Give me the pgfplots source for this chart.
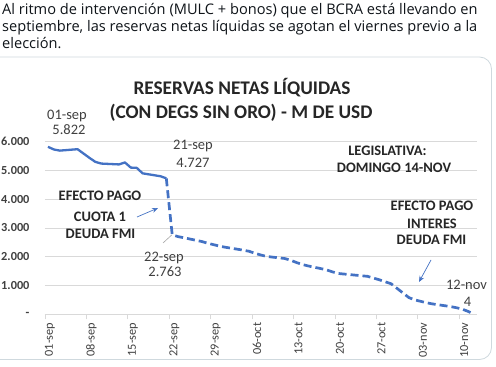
\documentclass[border=0pt]{standalone}
\usepackage{fontspec}
\setmainfont{Carlito}
\newfontfamily\tweetfont{Open Sans}
\usepackage{pgfplots}
\pgfplotsset{compat=1.18}
\usetikzlibrary{arrows.meta}
\definecolor{xlblue}{HTML}{4472C4}
\definecolor{tw}{HTML}{0F1419}
\definecolor{gridc}{HTML}{D9D9D9}
\definecolor{lbl}{HTML}{404040}
\definecolor{ttl}{HTML}{262626}
\definecolor{framec}{HTML}{CFD9DE}
\begin{document}
\begin{tikzpicture}[x=1pt,y=1pt]
\path[use as bounding box, fill=white] (0,0) rectangle (496,367);
\draw[color=framec, line width=0.8pt, rounded corners=12pt] (-20,310) rectangle (491.5,7.5);
% tweet text
\begin{scope}[every node/.style={anchor=base west, inner sep=0pt, text=tw, font=\tweetfont\fontsize{14.6}{17}\selectfont}]
\node at (2,352) {Al ritmo de intervención (MULC + bonos) que el BCRA está llevando en};
\node at (2,335.3) {septiembre, las reservas netas líquidas se agotan el viernes previo a la};
\node at (2,318.7) {elección.};
\end{scope}
\begin{axis}[
  at={(45pt,52.7pt)}, anchor=south west, scale only axis,
  width=432pt, height=172.6pt,
  xmin=0, xmax=73, ymin=0, ymax=6000,
  axis y line*=left, axis x line*=bottom,
  y axis line style={draw=none},
  x axis line style={draw=gridc, line width=0.8pt},
  ymajorgrids, grid style={gridc, line width=0.8pt},
  ytick={0,1000,2000,3000,4000,5000,6000},
  yticklabels={{-\hspace{6pt}},1.000,2.000,3.000,4.000,5.000,6.000},
  ytick style={draw=none},
  yticklabel style={font=\fontsize{12.3}{14}\selectfont\bfseries, text=lbl, xshift=-7pt},
  xtick={0,7,14,21,28,35,42,49,56,63,70},
  xticklabels={01-sep,08-sep,15-sep,22-sep,29-sep,06-oct,13-oct,20-oct,27-oct,03-nov,10-nov},
  xtick style={draw=gridc, line width=0.8pt},
  tick align=outside, major tick length=5pt,
  xticklabel style={font=\fontsize{12.3}{14}\selectfont, text=lbl, xshift=5pt, rotate=90, anchor=east},
  /pgf/number format/assume math mode=true,
  clip=false,
]
\addplot[xlblue, line width=2.3pt, line join=round] coordinates {
(0.5,5822) (1.5,5730) (2.5,5690) (5.5,5740) (6.5,5590) (7.5,5440) (8.5,5300) (9.5,5240)
(12.5,5210) (13.5,5280) (14.5,5100) (15.5,5090) (16.5,4900) (19.5,4800) (20.5,4727)
};
\addplot[xlblue, line width=2.7pt, dash pattern=on 8pt off 4pt] coordinates {
(20.5,4727) (21.5,2763) (22.5,2700) (23.5,2660) (26.5,2530) (27.5,2470) (28.5,2420) (29.5,2370)
(30.5,2330) (33.5,2230) (34.5,2190) (35.5,2120) (36.5,2060) (37.5,2010) (40.5,1940)
(41.5,1880) (42.5,1800) (43.5,1730) (44.5,1680) (47.5,1550) (48.5,1480) (49.5,1420)
(50.5,1400) (51.5,1380) (54.5,1320) (55.5,1260) (56.5,1200) (57.5,1130) (58.5,1060)
(61.5,580) (62.5,500) (63.5,450) (64.5,400) (65.5,360) (68.5,270) (69.5,230) (70.5,180)
(71.5,100) (72.5,4)
};
\end{axis}
% title
\node[anchor=base, font=\fontsize{19.3}{21}\selectfont\bfseries, text=ttl] at (242,272) {RESERVAS NETAS LÍQUIDAS};
\node[anchor=base, font=\fontsize{19.3}{21}\selectfont\bfseries, text=ttl] at (241,248) {(CON DEGS SIN ORO) - M DE USD};
% data labels
\begin{scope}[every node/.style={anchor=base, inner sep=0pt, text=lbl, font=\fontsize{14.5}{16}\selectfont}]
\node at (67,247.7) {01-sep};
\node at (69,232) {5.822};
\node at (193,217) {21-sep};
\node at (193,199) {4.727};
\node at (164,105.3) {22-sep};
\node at (165,90) {2.763};
\node at (466.5,77.7) {12-nov};
\node at (467.5,60.3) {4};
\end{scope}
\draw[gray!70, line width=0.6pt] (171.7,132) -- (163,124);
% annotations
\begin{scope}[every node/.style={anchor=base, inner sep=0pt, text=ttl, font=\fontsize{14.5}{16}\selectfont\bfseries}]
\node at (387.5,211.5) {LEGISLATIVA:};
\node at (394,194.3) {DOMINGO 14-NOV};
\node at (100,166) {EFECTO PAGO};
\node at (100,145.3) {CUOTA 1};
\node at (100.5,128.7) {DEUDA FMI};
\node at (432,156.3) {EFECTO PAGO};
\node at (432,138.7) {INTERES};
\node at (431.5,122) {DEUDA FMI};
\end{scope}
\draw[xlblue, line width=0.7pt, -{Stealth[length=6pt,width=5pt]}] (137,150) -- (158,159);
\draw[xlblue, line width=0.7pt, -{Stealth[length=6pt,width=5pt]}] (431,107) -- (419,85);
\end{tikzpicture}
\end{document}
